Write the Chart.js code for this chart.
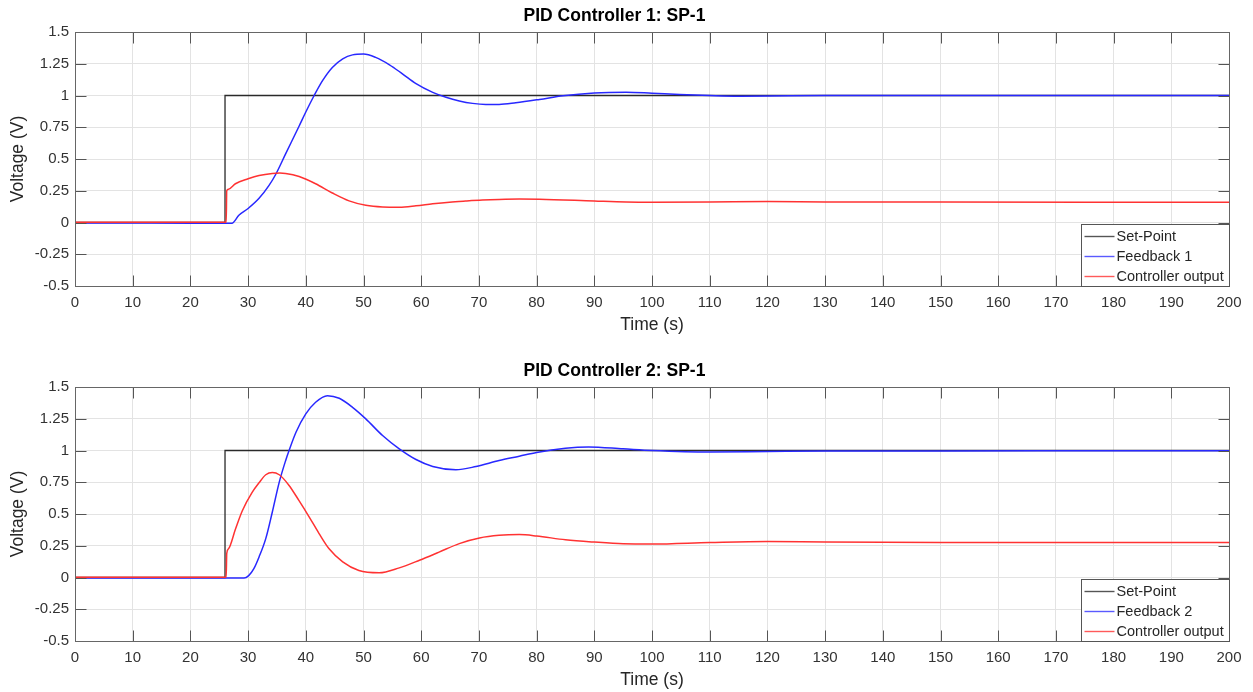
<!DOCTYPE html>
<html>
<head>
<meta charset="utf-8">
<script src="https://cdn.jsdelivr.net/npm/chart.js@4.4.0/dist/chart.umd.min.js"></script>
<style>
  body { margin: 0; background: #fff; }
  canvas { position: absolute; left: 0; }
  #pid1 { top: 0; }
  #pid2 { top: 355px; }
</style>
</head>
<body>
<canvas id="pid1" width="1253" height="337"></canvas>
<canvas id="pid2" width="1253" height="337"></canvas>
<script>
// set-point step (same for both controllers)
var spTime = [0, 26, 26, 200];
var spVals = [0, 0, 1, 1];

// controller 1
var fb1Time = [0, 10, 20, 27.2, 28.4, 30, 31.9, 33.6, 34.8, 36.5, 38.85, 40, 41.45, 42.9, 44.6, 46.4, 48.1, 50, 52.1, 54.5,
  56.8, 59.1, 62, 64.3, 66.6, 68.9, 71.2, 73.5, 76.4, 80.5, 84.6, 90, 95.5, 100, 104.8, 110, 115, 120, 130, 150, 175, 200];
var fb1Vals = [-0.003, -0.004, -0.005, -0.005, 0.057, 0.11, 0.19, 0.29, 0.38, 0.54, 0.76, 0.87, 1.0, 1.117, 1.221, 1.289, 1.32, 1.326, 1.30, 1.242,
  1.169, 1.094, 1.025, 0.986, 0.957, 0.938, 0.93, 0.93, 0.943, 0.969, 0.998, 1.02, 1.026, 1.018, 1.008, 1.0, 0.995, 0.996, 1.0, 1.0, 1.0, 1.0];
var co1Time = [0, 10, 20, 26.2, 26.3, 26.6, 27.8, 30, 31.9, 34.2, 35.5, 36.5, 38.85, 41.7, 44.6, 47.5, 50.4, 53.3, 56.2, 59.1,
  62, 64.9, 67.7, 70.6, 73.5, 77, 80.5, 90, 95.5, 100, 110, 120, 130, 150, 175, 200];
var co1Vals = [0.001, 0.001, 0.001, 0.001, 0.25, 0.262, 0.305, 0.344, 0.37, 0.386, 0.389, 0.386, 0.362, 0.305, 0.232, 0.17, 0.135, 0.122, 0.12, 0.131,
  0.147, 0.16, 0.169, 0.177, 0.182, 0.185, 0.184, 0.169, 0.161, 0.159, 0.161, 0.165, 0.162, 0.161, 0.16, 0.16];

// controller 2
var fb2Time = [0, 10, 20, 29.3, 30.1, 31.0, 31.9, 33.06, 34.2, 35.4, 36.5, 37.1, 38.3, 40, 41.7, 43.75, 45.8, 48.1, 50.4, 53.3,
  56.2, 59.1, 62, 66, 69.5, 73.5, 77, 80, 85, 89, 95, 100, 110, 120, 130, 150, 175, 200];
var fb2Vals = [-0.003, -0.004, -0.004, -0.004, 0.015, 0.07, 0.162, 0.306, 0.516, 0.751, 0.92, 1.0, 1.144, 1.288, 1.38, 1.432, 1.411, 1.34, 1.249, 1.118,
  1.013, 0.929, 0.874, 0.848, 0.874, 0.921, 0.955, 0.985, 1.018, 1.028, 1.013, 1.0, 0.988, 0.992, 0.996, 0.997, 0.998, 0.998];
var co2Time = [0, 10, 20, 26.2, 26.3, 26.6, 27.8, 29, 30.7, 31.9, 33.06, 34.2, 35.4, 37.1, 38.8, 40.6, 42.3, 44, 46.4, 49.2,
  52.7, 56.2, 59.7, 63.1, 66.6, 70.1, 73.5, 77, 80, 85, 90, 95, 100, 110, 120, 130, 150, 175, 200];
var co2Vals = [0.002, 0.002, 0.002, 0.002, 0.19, 0.226, 0.38, 0.526, 0.67, 0.746, 0.809, 0.827, 0.809, 0.725, 0.607, 0.476, 0.346, 0.228, 0.123, 0.055,
  0.037, 0.076, 0.136, 0.2, 0.267, 0.311, 0.332, 0.338, 0.327, 0.297, 0.279, 0.266, 0.264, 0.276, 0.284, 0.28, 0.276, 0.275, 0.275];

var yTickLabels = ['-0.5', '-0.25', '0', '0.25', '0.5', '0.75', '1', '1.25', '1.5'];

var FONT = 'Liberation Sans, Arial, Helvetica, sans-serif';

function toPoints(xs, ys) {
  return xs.map(function (x, i) { return { x: x, y: ys[i] }; });
}

// MATLAB style box, inner ticks and legend inside the axes
var matlabAxes = {
  id: 'matlabAxes',
  afterDatasetsDraw: function (chart) {
    var ctx = chart.ctx, a = chart.chartArea;
    var xs = chart.scales.x, ys = chart.scales.y;
    var L = Math.round(a.left) + 0.5, R = Math.round(a.right) + 0.5;
    var T = Math.round(a.top) + 0.5, B = Math.round(a.bottom) + 0.5;
    ctx.save();
    ctx.strokeStyle = '#555';
    ctx.lineWidth = 1;
    ctx.beginPath();
    xs.ticks.forEach(function (t) {
      var px = Math.round(xs.getPixelForValue(t.value)) + 0.5;
      ctx.moveTo(px, B); ctx.lineTo(px, B - 11);
      ctx.moveTo(px, T); ctx.lineTo(px, T + 11);
    });
    ys.ticks.forEach(function (t) {
      var py = Math.round(ys.getPixelForValue(t.value)) + 0.5;
      ctx.moveTo(L, py); ctx.lineTo(L + 11, py);
      ctx.moveTo(R, py); ctx.lineTo(R - 11, py);
    });
    ctx.stroke();
    ctx.strokeStyle = '#666';
    ctx.strokeRect(L, T, R - L, B - T);
    ctx.restore();
  },
  afterDraw: function (chart) {
    var ctx = chart.ctx, a = chart.chartArea;
    var ds = chart.data.datasets;
    var w = 148, rowH = 20, h = 62;
    var x0 = Math.round(a.right) - w + 0.5, y0 = Math.round(a.bottom) - h + 0.5;
    ctx.save();
    ctx.fillStyle = '#fff';
    ctx.fillRect(x0, y0, w, h);
    ctx.strokeStyle = '#555';
    ctx.lineWidth = 1;
    ctx.strokeRect(x0, y0, w, h);
    ctx.font = '14.5px ' + FONT;
    ctx.textBaseline = 'middle';
    ds.forEach(function (d, i) {
      var cy = y0 + 12 + i * rowH;
      ctx.strokeStyle = d.legendColor;
      ctx.lineWidth = 1.4;
      ctx.beginPath();
      ctx.moveTo(x0 + 3, cy); ctx.lineTo(x0 + 33, cy);
      ctx.stroke();
      ctx.fillStyle = '#262626';
      ctx.fillText(d.label, x0 + 35, cy);
    });
    ctx.restore();
  }
};

function makeChart(id, title, fbLabel, fbTime, fbVals, coTime, coVals) {
  return new Chart(document.getElementById(id), {
    type: 'line',
    data: {
      datasets: [
        { label: 'Set-Point', data: toPoints(spTime, spVals), borderColor: '#2a2a2a', legendColor: '#555',
          borderWidth: 1.3, tension: 0, order: 3 },
        { label: fbLabel, data: toPoints(fbTime, fbVals), borderColor: 'rgb(40,40,255)', legendColor: 'rgb(90,90,255)',
          borderWidth: 1.5, cubicInterpolationMode: 'monotone', order: 2 },
        { label: 'Controller output', data: toPoints(coTime, coVals), borderColor: 'rgb(255,50,50)', legendColor: 'rgb(255,90,90)',
          borderWidth: 1.5, cubicInterpolationMode: 'monotone', order: 1 }
      ]
    },
    options: {
      responsive: false,
      animation: false,
      devicePixelRatio: 1,
      layout: { padding: { left: 0, right: 24, top: 0, bottom: 0 } },
      elements: { point: { radius: 0 } },
      plugins: {
        legend: { display: false },
        tooltip: { enabled: false },
        title: {
          display: true,
          text: title,
          color: '#000',
          font: { family: FONT, size: 17.5, weight: 'bold' },
          padding: { top: 6, bottom: 5 }
        }
      },
      scales: {
        x: {
          type: 'linear',
          min: 0,
          max: 200,
          ticks: { stepSize: 10, autoSkip: false, maxRotation: 0, padding: 8, color: '#333',
            font: { family: FONT, size: 15 } },
          grid: { color: '#e3e3e3', drawTicks: false },
          border: { display: false },
          title: { display: true, text: 'Time (s)', color: '#262626',
            font: { family: FONT, size: 17.5 }, padding: { top: 0, bottom: 1 } },
          afterFit: function (s) { s.height = 51; }
        },
        y: {
          min: -0.5,
          max: 1.5,
          ticks: { stepSize: 0.25, padding: 6, color: '#333', font: { family: FONT, size: 15 },
            callback: function (v) { return yTickLabels[Math.round((v + 0.5) / 0.25)]; } },
          grid: { color: '#e3e3e3', drawTicks: false },
          border: { display: false },
          title: { display: true, text: 'Voltage (V)', color: '#262626',
            font: { family: FONT, size: 17.5 }, padding: { top: 8, bottom: 0 } },
          afterFit: function (s) { s.width = 75; }
        }
      }
    },
    plugins: [matlabAxes]
  });
}

makeChart('pid1', 'PID Controller 1: SP-1', 'Feedback 1', fb1Time, fb1Vals, co1Time, co1Vals);
makeChart('pid2', 'PID Controller 2: SP-1', 'Feedback 2', fb2Time, fb2Vals, co2Time, co2Vals);
</script>
</body>
</html>
